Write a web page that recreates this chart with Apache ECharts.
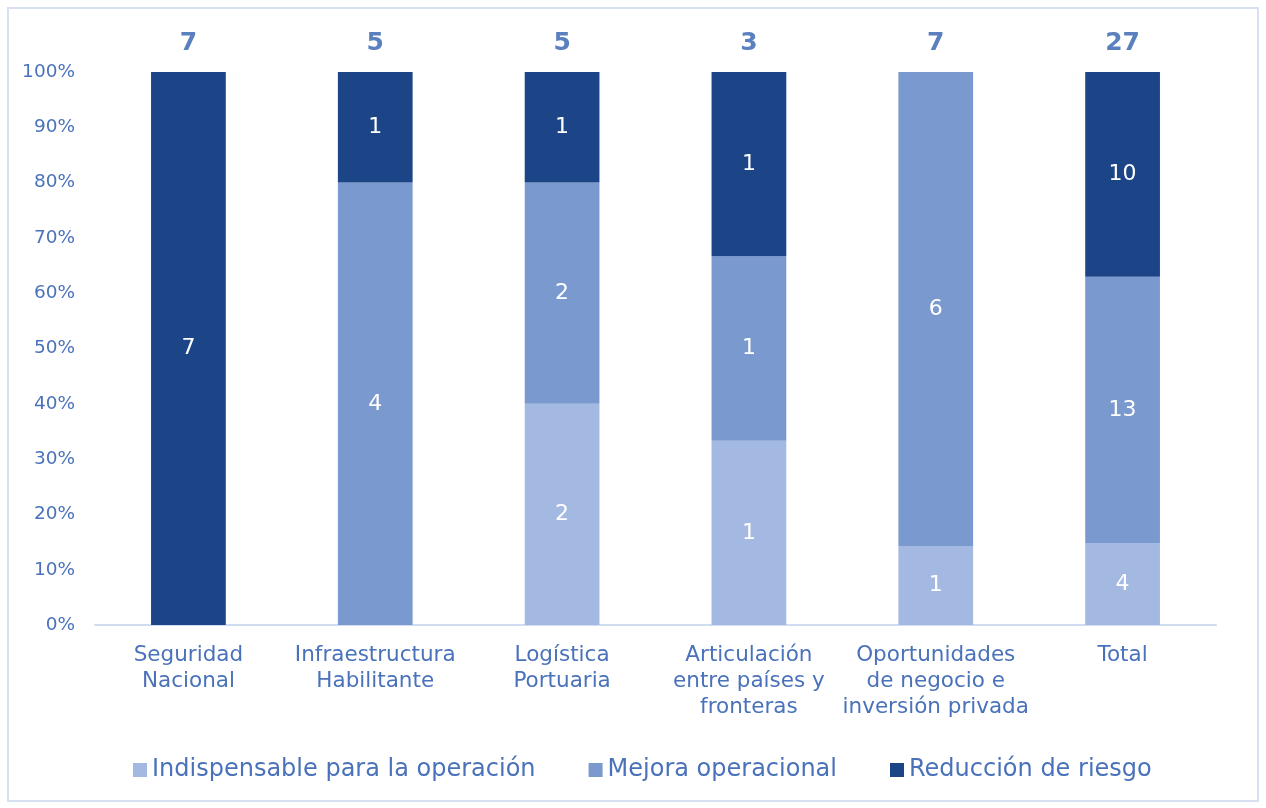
<!DOCTYPE html>
<html>
<head>
<meta charset="utf-8">
<script src="https://cdn.jsdelivr.net/npm/echarts@6/dist/echarts.min.js"></script>
<style>
  html, body { margin: 0; padding: 0; background: #fff; }
  #chart { position: absolute; left: 7px; top: 7px; width: 1252px; height: 795px; border: 2px solid #D6E0F0; box-sizing: border-box; }
</style>
</head>
<body>
<div id="chart"></div>
<script>
var categories = ['Seguridad\nNacional', 'Infraestructura\nHabilitante', 'Logística\nPortuaria', 'Articulación\nentre países y\nfronteras', 'Oportunidades\nde negocio e\ninversión privada', 'Total'];
var indispensable = [0, 0, 2, 1, 1, 4];
var mejora = [0, 4, 2, 1, 6, 13];
var reduccion = [7, 1, 1, 1, 0, 10];
var seriesNames = ['Indispensable para la operación', 'Mejora operacional', 'Reducción de riesgo'];
var colors = ['#A4B9E1', '#7A99CF', '#1C4587'];

var totals = categories.map(function (c, i) { return indispensable[i] + mejora[i] + reduccion[i]; });
function toPct(arr) {
  return arr.map(function (v, i) { return { value: v / totals[i] * 100, count: v }; });
}

var textColor = '#4A72BA';
var font = 'DejaVu Sans';

function segment(name, arr, color) {
  return {
    name: name,
    type: 'bar',
    stack: 'all',
    barWidth: '40%',
    data: toPct(arr),
    itemStyle: { color: color },
    label: {
      show: true,
      position: 'inside',
      color: '#fff',
      fontFamily: font,
      fontSize: 22,
      formatter: function (p) { return p.data.count > 0 ? p.data.count : ''; }
    }
  };
}

var chart = echarts.init(document.getElementById('chart'));
chart.setOption({
  animation: false,
  textStyle: { fontFamily: font },
  grid: { left: 86, right: 41, top: 63, bottom: 175, containLabel: false },
  legend: {
    data: seriesNames,
    bottom: 13,
    left: 119,
    itemWidth: 14,
    itemHeight: 14,
    itemGap: 53,
    icon: 'rect',
    textStyle: { color: textColor, fontFamily: font, fontSize: 24 }
  },
  xAxis: {
    type: 'category',
    data: categories,
    axisLine: { lineStyle: { color: '#D0DCEF', width: 2 } },
    axisTick: { show: false },
    axisLabel: { color: textColor, fontFamily: font, fontSize: 21.5, lineHeight: 26, margin: 17, interval: 0 }
  },
  yAxis: {
    type: 'value',
    min: 0,
    max: 100,
    interval: 10,
    splitLine: { show: false },
    axisLine: { show: false },
    axisTick: { show: false },
    axisLabel: { color: textColor, fontFamily: font, fontSize: 18.5, margin: 20, formatter: '{value}%' }
  },
  series: [
    segment(seriesNames[0], indispensable, colors[0]),
    segment(seriesNames[1], mejora, colors[1]),
    segment(seriesNames[2], reduccion, colors[2]),
    {
      name: 'totales',
      type: 'bar',
      stack: 'all',
      barWidth: '40%',
      data: totals.map(function () { return 0; }),
      itemStyle: { color: 'transparent' },
      label: {
        show: true,
        position: 'top',
        distance: 16,
        color: '#5B80C0',
        fontFamily: font,
        fontWeight: 'bold',
        fontSize: 25,
        formatter: function (p) { return totals[p.dataIndex]; }
      }
    }
  ]
});
</script>
</body>
</html>
